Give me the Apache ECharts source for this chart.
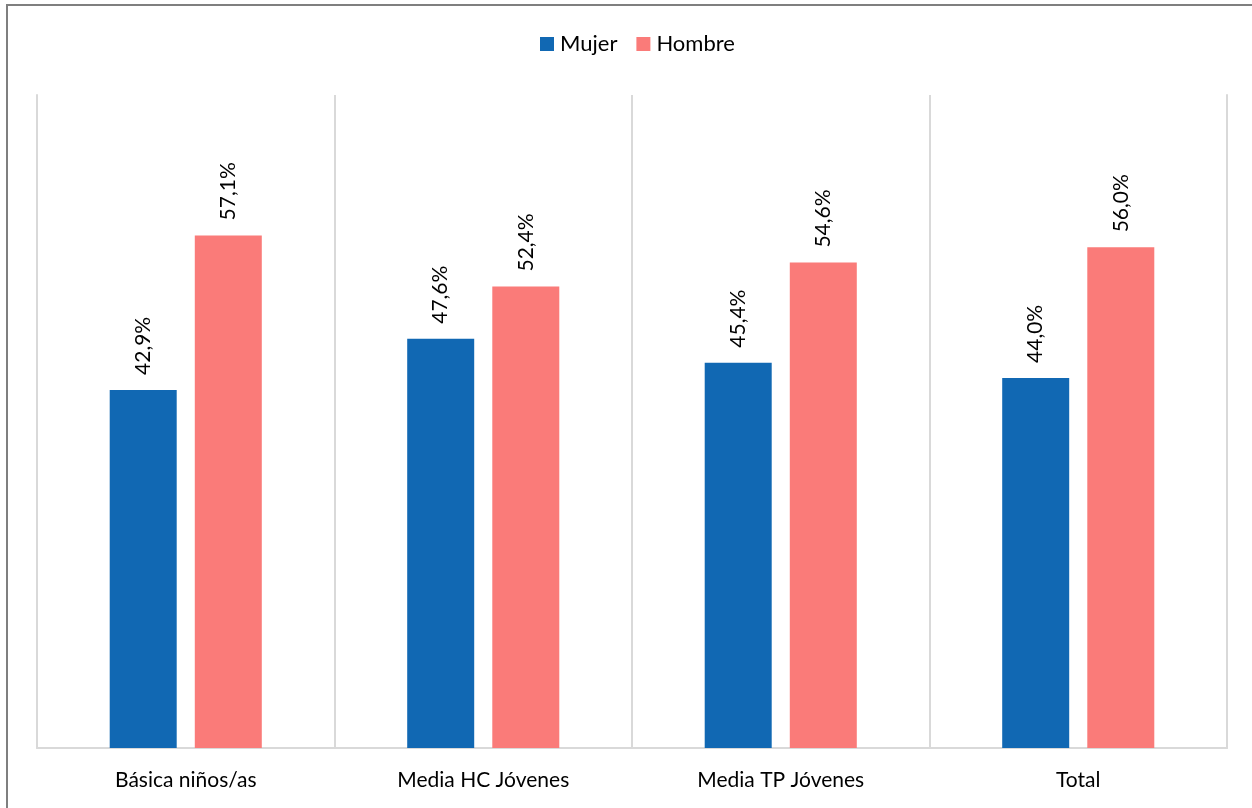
<!DOCTYPE html>
<html>
<head>
<meta charset="utf-8">
<script src="https://cdn.jsdelivr.net/npm/echarts@6/dist/echarts.min.js"></script>
<style>
html,body{margin:0;padding:0;background:#fff;overflow:hidden;}
#frame{position:absolute;left:6px;top:4px;width:1260px;height:820px;border-left:2px solid #7f7f7f;border-top:2px solid #7f7f7f;}
#chart{position:absolute;left:0;top:0;width:1252px;height:808px;}
</style>
</head>
<body>
<div id="frame"></div>
<div id="chart"></div>
<script>
const categories = ['Básica niños/as', 'Media HC Jóvenes', 'Media TP Jóvenes', 'Total'];
const mujer = [42.9, 47.6, 45.4, 44.0];
const hombre = [57.1, 52.4, 54.6, 56.0];
const seriesNames = ['Mujer', 'Hombre'];

const fontFam = 'Lato, "Open Sans", sans-serif';
const chart = echarts.init(document.getElementById('chart'));
const labelOpt = {
  show: true,
  position: 'top',
  rotate: 90,
  align: 'left',
  verticalAlign: 'middle',
  distance: 15,
  color: '#000',
  fontSize: 21,
  fontFamily: fontFam,
  formatter: p => p.value.toFixed(1).replace('.', ',') + '%'
};
chart.setOption({
  animation: false,
  legend: {
    top: 33,
    left: 540,
    padding: 0,
    itemWidth: 14,
    itemHeight: 14,
    itemGap: 19,
    icon: 'rect',
    textStyle: {fontSize: 22, color: '#000', fontFamily: fontFam, padding: [0, 0, 0, 1]},
    data: seriesNames
  },
  grid: {left: 37, right: 25, top: 95, bottom: 60},
  xAxis: {
    type: 'category',
    data: categories,
    axisLine: {show: true, lineStyle: {color: '#d9d9d9', width: 2}},
    axisTick: {show: false},
    splitLine: {show: true, lineStyle: {color: '#d9d9d9', width: 2}},
    axisLabel: {fontSize: 21, color: '#000', fontFamily: fontFam, margin: 22}
  },
  yAxis: [{
    type: 'value',
    min: 10,
    max: 70,
    show: true,
    axisLine: {show: true, lineStyle: {color: '#d9d9d9', width: 2}},
    axisLabel: {show: false},
    axisTick: {show: false},
    splitLine: {show: false}
  }, {
    type: 'value',
    min: 10,
    max: 70,
    position: 'right',
    axisLine: {show: true, lineStyle: {color: '#d9d9d9', width: 2}},
    axisLabel: {show: false},
    axisTick: {show: false},
    splitLine: {show: false}
  }],
  series: [{
    name: seriesNames[0],
    type: 'bar',
    data: mujer,
    barWidth: 67,
    barGap: '27%',
    itemStyle: {color: '#1168B3'},
    label: labelOpt
  }, {
    name: seriesNames[1],
    type: 'bar',
    data: hombre,
    barWidth: 67,
    barGap: '27%',
    itemStyle: {color: '#FA7B79'},
    label: labelOpt
  }]
});
</script>
</body>
</html>
